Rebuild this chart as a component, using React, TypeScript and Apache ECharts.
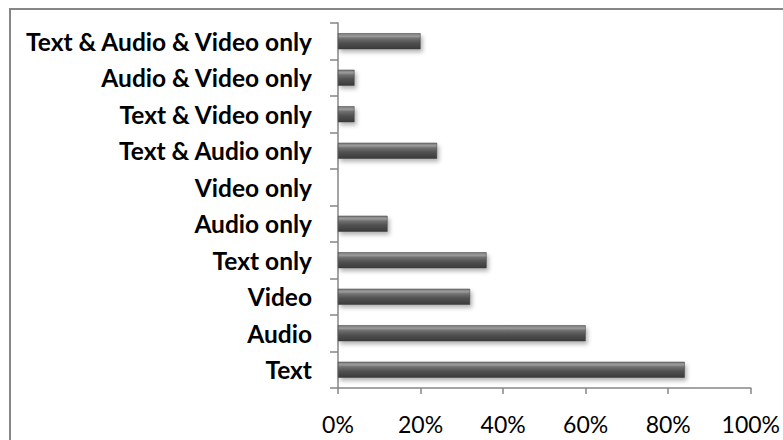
import React, { useEffect, useRef } from "react";
import * as echarts from "echarts";

const categories = [
  "Text",
  "Audio",
  "Video",
  "Text only",
  "Audio only",
  "Video only",
  "Text & Audio only",
  "Text & Video only",
  "Audio & Video only",
  "Text & Audio & Video only",
];
const values = [0.84, 0.6, 0.32, 0.36, 0.12, 0, 0.24, 0.04, 0.04, 0.2];
const xTicks = [0, 0.2, 0.4, 0.6, 0.8, 1];

export default function App() {
  const ref = useRef<HTMLDivElement>(null);
  useEffect(() => {
    document.body.style.margin = "0";
    if (!ref.current) return;
    const chart = echarts.init(ref.current, undefined, { renderer: "svg" });
    const axisColor = "#868686";
    chart.setOption({
      animation: false,
      backgroundColor: "#ffffff",
      graphic: [
        {
          type: "rect",
          shape: { x: 10, y: 9, width: 900, height: 600 },
          style: { fill: "none", stroke: axisColor, lineWidth: 2 },
          silent: true,
        },
      ],
      grid: { left: 338, right: 32, top: 23, bottom: 52 },
      xAxis: {
        type: "value",
        min: xTicks[0],
        max: xTicks[xTicks.length - 1],
        interval: 0.2,
        axisLine: { show: true, lineStyle: { color: axisColor, width: 1.5 } },
        axisTick: { show: true, length: 6, lineStyle: { color: axisColor, width: 1.5 } },
        splitLine: { show: false },
        axisLabel: {
          formatter: (v: number) => Math.round(v * 100) + "%",
          fontFamily: "Lato",
          fontSize: 23,
          color: "#000",
          margin: 24,
        },
      },
      yAxis: {
        type: "category",
        data: categories,
        axisLine: { show: true, lineStyle: { color: axisColor, width: 1.5 } },
        axisTick: { show: true, length: 8, lineStyle: { color: axisColor, width: 1.5 } },
        axisLabel: {
          fontFamily: "Lato",
          fontWeight: "bold",
          fontSize: 24.5,
          color: "#000",
          margin: 26,
        },
      },
      series: [
        {
          type: "bar",
          data: values,
          barWidth: 16,
          itemStyle: {
            color: new echarts.graphic.LinearGradient(0, 0, 0, 1, [
              { offset: 0, color: "#7a7a7a" },
              { offset: 0.18, color: "#9c9c9c" },
              { offset: 0.32, color: "#707070" },
              { offset: 0.6, color: "#515151" },
              { offset: 1, color: "#3a3a3a" },
            ]),
            borderColor: "#3a3a3a",
            borderWidth: 0.5,
            shadowColor: "rgba(0,0,0,0.3)",
            shadowBlur: 4,
            shadowOffsetX: 2,
            shadowOffsetY: 3,
          },
        },
      ],
    });
    return () => chart.dispose();
  }, []);
  return <div ref={ref} style={{ width: 783, height: 440 }} />;
}
